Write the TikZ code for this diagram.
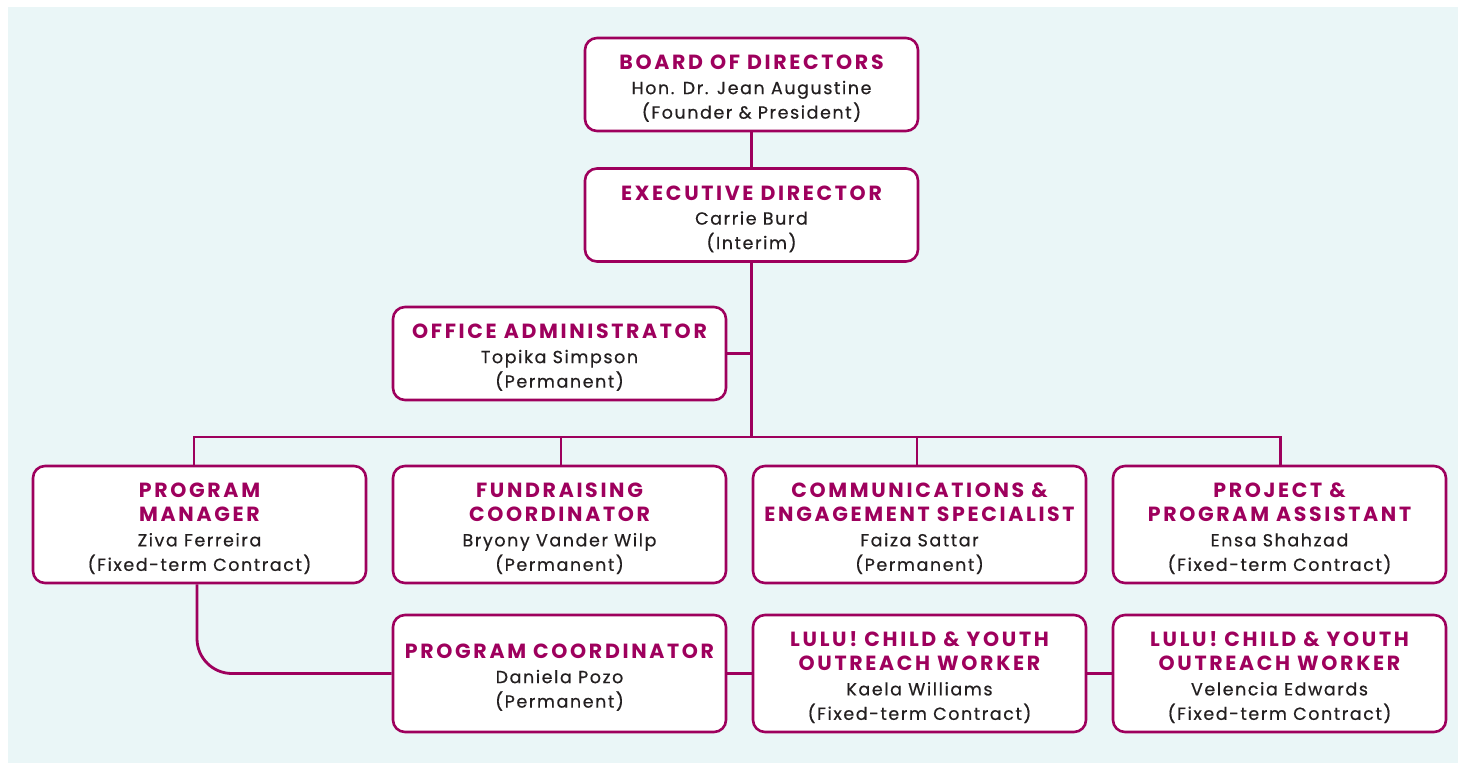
\documentclass[tikz,border=0pt]{standalone}
\usepackage{fontspec}
\setmainfont{Poppins}
\newfontfamily\titlefont[LetterSpace=13]{Poppins}
\newfontfamily\bodyfont[LetterSpace=9,FakeBold=0.5]{Poppins}
\definecolor{mag}{RGB}{158,0,93}
\definecolor{bgc}{RGB}{234,246,247}
\definecolor{txt}{RGB}{35,31,32}
\newcommand{\ttl}[1]{{\titlefont\bfseries\fontsize{20.5}{24.5}\selectfont\color{mag}#1}}
\newcommand{\up}{\rule{0pt}{22.5pt}}
\tikzset{
  box/.style={draw=mag, line width=2.6pt, rounded corners=12pt, fill=white,
    minimum width=333pt, align=center, inner sep=0pt, text=txt,
    font=\bodyfont\fontsize{17.5}{24.5}\selectfont},
  small/.style={box, minimum height=93pt},
  tall/.style={box, minimum height=117pt},
  conn/.style={draw=mag, line width=2.8pt}
}
\begin{document}
\begin{tikzpicture}[x=1pt,y=-1pt]
\useasboundingbox (0,0) rectangle (1458,763);
\fill[bgc] (8,7) rectangle (1458,763);
\node[small] (board) at (751.5,84.5) {\up\ttl{BOARD OF DIRECTORS}\\Hon. Dr. Jean Augustine\\(Founder \& President)};
\node[small] (exec) at (751.5,215) {\up\ttl{EXECUTIVE DIRECTOR}\\Carrie Burd\\(Interim)};
\node[small] (office) at (559.5,353.5) {\up\ttl{OFFICE ADMINISTRATOR}\\Topika Simpson\\(Permanent)};
\node[tall] (pm) at (199.5,524.5) {\up\ttl{PROGRAM}\\\ttl{MANAGER}\\Ziva Ferreira\\(Fixed-term Contract)};
\node[tall] (fc) at (559.5,524.5) {\up\ttl{FUNDRAISING}\\\ttl{COORDINATOR}\\Bryony Vander Wilp\\(Permanent)};
\node[tall] (ce) at (919.5,524.5) {\up\ttl{COMMUNICATIONS \&}\\\ttl{ENGAGEMENT SPECIALIST}\\Faiza Sattar\\(Permanent)};
\node[tall] (pa) at (1279.5,524.5) {\up\ttl{PROJECT \&}\\\ttl{PROGRAM ASSISTANT}\\Ensa Shahzad\\(Fixed-term Contract)};
\node[tall] (pc) at (559.5,673.5) {\up\ttl{PROGRAM COORDINATOR}\\Daniela Pozo\\(Permanent)};
\node[tall] (lw1) at (919.5,673.5) {\up\ttl{LULU! CHILD \& YOUTH}\\\ttl{OUTREACH WORKER}\\Kaela Williams\\(Fixed-term Contract)};
\node[tall] (lw2) at (1279.5,673.5) {\up\ttl{LULU! CHILD \& YOUTH}\\\ttl{OUTREACH WORKER}\\Velencia Edwards\\(Fixed-term Contract)};
\coordinate (bus) at (751.5,437);
\draw[conn] (board.south) -- (exec.north);
\draw[conn] (exec.south) -- (bus);
\draw[conn] (office.east) -- (office.east -| bus);
\draw[conn] ([xshift=-5.5pt]pm.north) |- (bus) -| ([xshift=1pt]pa.north);
\draw[conn] ([xshift=1.5pt]fc.north) -- ([xshift=1.5pt]fc.north |- bus);
\draw[conn] ([xshift=-2.5pt]ce.north) -- ([xshift=-2.5pt]ce.north |- bus);
\draw[conn, rounded corners=35pt] ([xshift=-2.5pt]pm.south) |- (pc.west);
\draw[conn] (pc.east) -- (lw1.west);
\draw[conn] (lw1.east) -- (lw2.west);
\end{tikzpicture}
\end{document}
